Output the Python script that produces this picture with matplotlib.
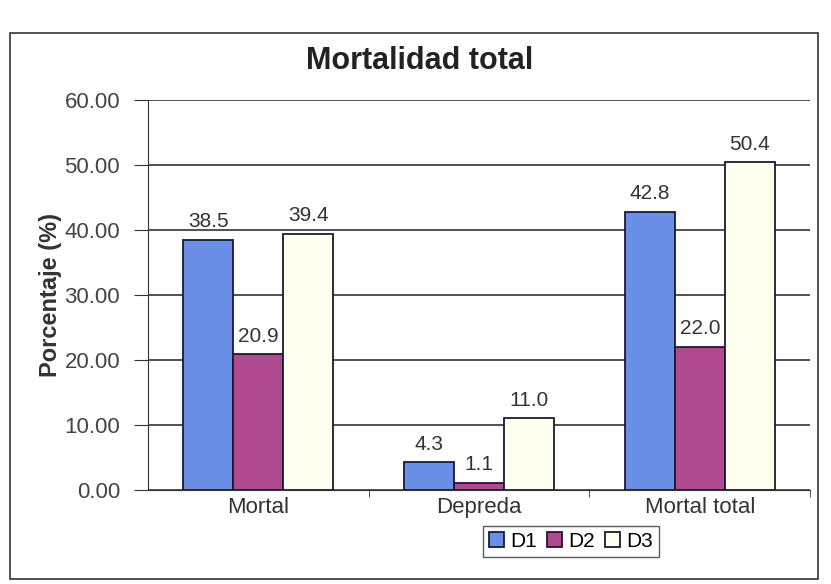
import numpy as np
import matplotlib.pyplot as plt
from matplotlib.patches import Rectangle

categories = ['Mortal', 'Depreda', 'Mortal total']
series = ['D1', 'D2', 'D3']
d1 = [38.5, 4.3, 42.8]
d2 = [20.9, 1.1, 22.0]
d3 = [39.4, 11.0, 50.4]
colors = ['#6b8fe6', '#b04a8e', '#fffff0']

fig = plt.figure(figsize=(8.31, 5.84), dpi=100)
ax = fig.add_axes([0.178, 0.161, 0.797, 0.668])

# outer chart border
fig.patches.append(Rectangle((0.012, 0.008), 0.972, 0.935, transform=fig.transFigure,
                             fill=False, edgecolor='#333333', linewidth=1.2))

x = np.arange(len(categories))
w = 0.227
for i, (vals, c) in enumerate(zip([d1, d2, d3], colors)):
    pos = x + (i - 1) * w
    bars = ax.bar(pos, vals, w, color=c, edgecolor='#1a1a2e', linewidth=1.3,
                  label=series[i], zorder=3)
    for b, v in zip(bars, vals):
        ax.text(b.get_x() + b.get_width() / 2, v + 1.3, f'{v:.1f}',
                ha='center', va='bottom', fontsize=15, color='#333333',
                family='Liberation Sans', zorder=4)

ax.set_xlim(-0.5, 2.5)
ax.set_ylim(0, 60)
ax.set_yticks(np.arange(0, 61, 10))
ax.set_yticklabels([f'{v:.2f}' for v in np.arange(0, 61, 10)],
                   fontsize=16, color='#444444', family='Liberation Sans')
ax.set_xticks(x)
ax.set_xticklabels(categories, fontsize=16, color='#333333', family='Liberation Sans')
ax.tick_params(axis='x', length=0, pad=5)
ax.set_xticks([0.5, 1.5, 2.5], minor=True)
ax.tick_params(axis='x', which='minor', length=5, color='#333333')
ax.tick_params(axis='y', length=10, pad=10, direction='out', color='#333333')
ax.yaxis.grid(True, color='#222222', linewidth=1.1, zorder=0)
ax.set_axisbelow(True)
for s in ['top', 'right']:
    ax.spines[s].set_visible(False)
ax.spines['left'].set_color('#333333')
ax.spines['bottom'].set_color('#333333')
ax.set_ylabel('Porcentaje (%)', fontsize=17, fontweight='bold', color='#333333',
              family='Liberation Sans', labelpad=2)

fig.text(0.505, 0.895, 'Mortalidad total', ha='center', va='center', fontsize=22,
         fontweight='bold', color='#222222', family='Liberation Sans')

leg = fig.legend(loc='center', bbox_to_anchor=(0.687, 0.073), ncol=3,
                 frameon=True, fancybox=False, edgecolor='#333333',
                 handlelength=0.7, handleheight=0.7, handletextpad=0.3,
                 columnspacing=0.5, borderpad=0.3, prop={'family': 'Liberation Sans', 'size': 15})
leg.get_frame().set_linewidth(1.0)

fig.savefig('out.png', dpi=100)
